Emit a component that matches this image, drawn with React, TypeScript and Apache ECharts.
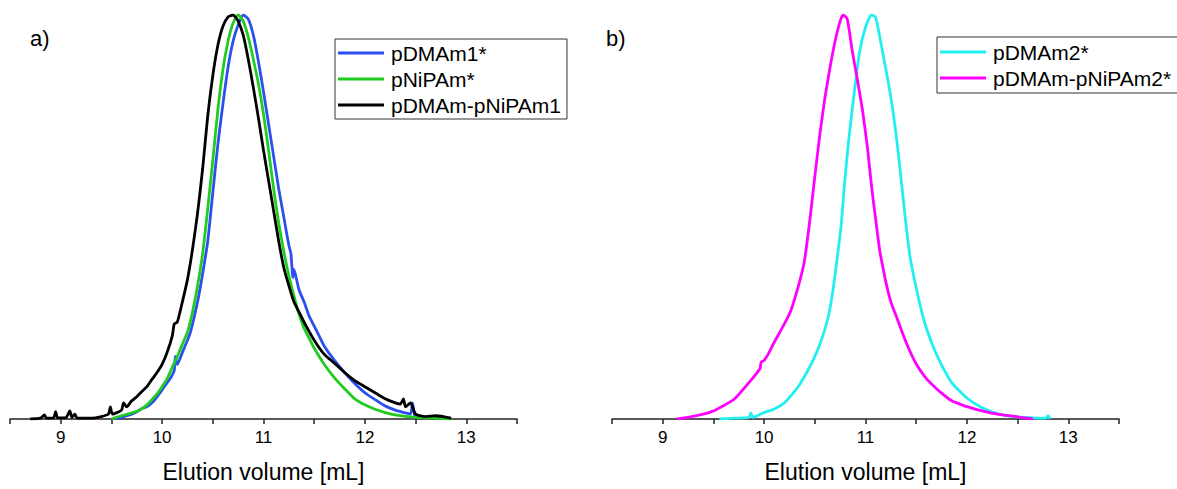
import React, { useEffect, useRef } from "react";
import * as echarts from "echarts";

// Panel a) curves: [elution volume mL, normalized signal]
const pDMAm1: [number, number][] = [
  [9.55, 0], [9.65, 0.008], [9.7, 0.012], [9.75, 0.018], [9.81, 0.027], [9.85, 0.03], [9.9, 0.04],
  [9.95, 0.055], [10.0, 0.072], [10.05, 0.09], [10.08, 0.1], [10.12, 0.12], [10.13, 0.155], [10.15, 0.135],
  [10.2, 0.165], [10.25, 0.195], [10.28, 0.215], [10.35, 0.29], [10.4, 0.36], [10.45, 0.44], [10.5, 0.56],
  [10.55, 0.68], [10.6, 0.78], [10.65, 0.87], [10.7, 0.935], [10.75, 0.975], [10.8, 1.0], [10.85, 0.99],
  [10.9, 0.95], [10.95, 0.885], [11.0, 0.81], [11.05, 0.73], [11.1, 0.65], [11.15, 0.57], [11.2, 0.5],
  [11.25, 0.43], [11.27, 0.41], [11.29, 0.35], [11.3, 0.37], [11.35, 0.32], [11.4, 0.29], [11.45, 0.255],
  [11.5, 0.23], [11.55, 0.205], [11.6, 0.18], [11.7, 0.145], [11.8, 0.115], [11.9, 0.088], [12.0, 0.065],
  [12.1, 0.048], [12.2, 0.032], [12.3, 0.022], [12.4, 0.015], [12.45, 0.012], [12.47, 0.04], [12.49, 0.01],
  [12.52, 0.002],
];
const pNiPAm: [number, number][] = [
  [9.5, 0], [9.6, 0.008], [9.7, 0.015], [9.78, 0.022], [9.85, 0.035], [9.9, 0.048], [9.95, 0.062],
  [10.0, 0.08], [10.05, 0.1], [10.1, 0.128], [10.15, 0.155], [10.2, 0.185], [10.25, 0.215], [10.3, 0.265],
  [10.35, 0.33], [10.4, 0.41], [10.45, 0.52], [10.5, 0.64], [10.55, 0.765], [10.6, 0.865], [10.65, 0.935],
  [10.7, 0.98], [10.75, 1.0], [10.8, 0.985], [10.85, 0.945], [10.9, 0.89], [10.95, 0.83], [11.0, 0.755],
  [11.05, 0.665], [11.1, 0.57], [11.15, 0.485], [11.2, 0.415], [11.25, 0.355], [11.3, 0.305], [11.35, 0.26],
  [11.4, 0.225], [11.45, 0.2], [11.5, 0.175], [11.6, 0.135], [11.7, 0.102], [11.8, 0.075], [11.9, 0.05],
  [12.0, 0.035], [12.1, 0.024], [12.2, 0.016], [12.3, 0.01], [12.5, 0.004], [12.7, 0.002], [12.85, 0],
];
const pDMAmPNiPAm1: [number, number][] = [
  [8.7, 0], [8.8, 0.002], [8.84, 0.01], [8.86, 0.002], [8.93, 0.003], [8.95, 0.018], [8.97, 0.003],
  [9.05, 0.003], [9.09, 0.02], [9.11, 0.004], [9.14, 0.012], [9.16, 0.003], [9.3, 0.002], [9.4, 0.006],
  [9.47, 0.012], [9.49, 0.03], [9.51, 0.012], [9.6, 0.022], [9.62, 0.04], [9.65, 0.03], [9.7, 0.045],
  [9.75, 0.055], [9.8, 0.068], [9.85, 0.08], [9.9, 0.098], [9.95, 0.115], [10.0, 0.135], [10.05, 0.165],
  [10.1, 0.205], [10.12, 0.235], [10.15, 0.24], [10.2, 0.29], [10.25, 0.345], [10.3, 0.42], [10.35, 0.51],
  [10.4, 0.62], [10.45, 0.75], [10.5, 0.85], [10.55, 0.925], [10.6, 0.972], [10.65, 0.995], [10.7, 1.0],
  [10.75, 0.985], [10.8, 0.95], [10.85, 0.89], [10.9, 0.82], [10.95, 0.745], [11.0, 0.665], [11.05, 0.59],
  [11.1, 0.515], [11.15, 0.44], [11.2, 0.375], [11.25, 0.33], [11.3, 0.29], [11.35, 0.265], [11.4, 0.24],
  [11.5, 0.195], [11.6, 0.16], [11.7, 0.138], [11.8, 0.115], [11.9, 0.095], [12.0, 0.08], [12.1, 0.065],
  [12.2, 0.05], [12.3, 0.04], [12.35, 0.037], [12.38, 0.05], [12.4, 0.03], [12.45, 0.04], [12.5, 0.012],
  [12.6, 0.006], [12.7, 0.008], [12.85, 0.002],
];

// Panel b) curves
const pDMAm2: [number, number][] = [
  [9.56, 0], [9.7, 0.002], [9.85, 0.004], [9.87, 0.015], [9.89, 0.004], [9.99, 0.015], [10.1, 0.025],
  [10.2, 0.04], [10.28, 0.062], [10.35, 0.085], [10.42, 0.115], [10.48, 0.144], [10.55, 0.185],
  [10.63, 0.25], [10.68, 0.32], [10.73, 0.417], [10.76, 0.48], [10.79, 0.573], [10.83, 0.68], [10.88, 0.79],
  [10.94, 0.906], [11.0, 0.97], [11.06, 1.0], [11.1, 0.995], [11.17, 0.906], [11.22, 0.84], [11.27, 0.764],
  [11.32, 0.665], [11.36, 0.573], [11.4, 0.48], [11.44, 0.4], [11.5, 0.325], [11.57, 0.25], [11.65, 0.19],
  [11.73, 0.144], [11.85, 0.09], [12.0, 0.052], [12.15, 0.028], [12.32, 0.012], [12.5, 0.005],
  [12.65, 0.003], [12.78, 0.002], [12.8, 0.008], [12.82, 0],
];
const pDMAmPNiPAm2: [number, number][] = [
  [9.14, 0], [9.25, 0.004], [9.4, 0.012], [9.5, 0.02], [9.6, 0.033], [9.7, 0.048], [9.73, 0.055],
  [9.8, 0.075], [9.85, 0.09], [9.9, 0.105], [9.96, 0.125], [9.97, 0.14], [10.0, 0.145], [10.05, 0.165],
  [10.1, 0.19], [10.18, 0.226], [10.25, 0.26], [10.28, 0.28], [10.35, 0.34], [10.4, 0.395], [10.45, 0.49],
  [10.5, 0.6], [10.55, 0.705], [10.6, 0.795], [10.65, 0.87], [10.7, 0.935], [10.75, 0.985], [10.78, 1.0],
  [10.82, 0.99], [10.87, 0.91], [10.92, 0.84], [10.97, 0.765], [11.02, 0.67], [11.06, 0.575], [11.1, 0.495],
  [11.14, 0.417], [11.16, 0.39], [11.2, 0.34], [11.25, 0.29], [11.31, 0.25], [11.4, 0.19], [11.5, 0.136],
  [11.6, 0.1], [11.7, 0.075], [11.76, 0.062], [11.85, 0.045], [11.95, 0.035], [12.05, 0.027],
  [12.15, 0.02], [12.3, 0.012], [12.45, 0.007], [12.65, 0],
];

const xMin = 8.5;
const xMax = 13.5;
const xStep = 0.5;
const panelLabels = ["a)", "b)"];
const axisTitle = "Elution volume [mL]";

const FONT = "'Liberation Sans', Arial, sans-serif";

export default function App() {
  const ref = useRef<HTMLDivElement>(null);
  useEffect(() => {
    if (!ref.current) return;
    const chart = echarts.init(ref.current, undefined, { renderer: "svg" });
    const makeX = (gridIndex: number) => ({
      type: "value",
      gridIndex,
      min: xMin,
      max: xMax,
      interval: xStep,
      name: axisTitle,
      nameLocation: "middle",
      nameGap: 41,
      nameTextStyle: { fontSize: 23, color: "#000", fontFamily: FONT },
      axisLine: { show: true, onZero: false, lineStyle: { color: "#222", width: 1.5 } },
      axisTick: { show: true, inside: false, length: 5, lineStyle: { color: "#222", width: 1.5 } },
      axisLabel: {
        fontSize: 17,
        color: "#000",
        fontFamily: FONT,
        margin: 10,
        formatter: (v: number) => (Number.isInteger(v) ? String(v) : ""),
      },
      splitLine: { show: false },
    });
    const makeY = (gridIndex: number) => ({
      type: "value",
      gridIndex,
      min: 0,
      max: 1,
      show: false,
      splitLine: { show: false },
    });
    const line = (name: string, data: [number, number][], color: string, idx: number) => ({
      type: "line",
      name,
      data,
      xAxisIndex: idx,
      yAxisIndex: idx,
      showSymbol: false,
      smooth: 0.2,
      color,
      lineStyle: { color, width: 2.8 },
    });
    const legendBase = {
      orient: "vertical",
      icon: "rect",
      itemWidth: 46,
      itemHeight: 3,
      itemGap: 4,
      borderColor: "#333",
      borderWidth: 1,
      textStyle: { fontSize: 21, color: "#000", fontFamily: FONT, lineHeight: 22, padding: [0, 0, 0, 2] },
    };
    chart.setOption({
      animation: false,
      backgroundColor: "#fff",
      grid: [
        { left: 10, top: 15, width: 507, height: 404 },
        { left: 612, top: 15, width: 507, height: 404 },
      ],
      xAxis: [makeX(0), makeX(1)],
      yAxis: [makeY(0), makeY(1)],
      legend: [
        {
          ...legendBase,
          left: 335,
          top: 39,
          padding: [3, 6, 3, 3],
          data: ["pDMAm1*", "pNiPAm*", "pDMAm-pNiPAm1"],
        },
        {
          ...legendBase,
          left: 937,
          top: 37,
          padding: [4, 30, 4, 3],
          data: ["pDMAm2*", "pDMAm-pNiPAm2*"],
        },
      ],
      graphic: [
        { type: "text", left: 30, top: 27, style: { text: panelLabels[0], fontSize: 22, fill: "#000", fontFamily: FONT } },
        { type: "text", left: 606, top: 27, style: { text: panelLabels[1], fontSize: 22, fill: "#000", fontFamily: FONT } },
      ],
      series: [
        line("pDMAm1*", pDMAm1, "#2b4ff0", 0),
        line("pNiPAm*", pNiPAm, "#1fcc1f", 0),
        line("pDMAm-pNiPAm1", pDMAmPNiPAm1, "#000000", 0),
        line("pDMAm2*", pDMAm2, "#22f0f0", 1),
        line("pDMAm-pNiPAm2*", pDMAmPNiPAm2, "#ff00ff", 1),
      ],
    });
    return () => chart.dispose();
  }, []);
  return (
    <div
      ref={ref}
      style={{ position: "fixed", left: 0, top: 0, width: 1177, height: 489, background: "#fff" }}
    />
  );
}
